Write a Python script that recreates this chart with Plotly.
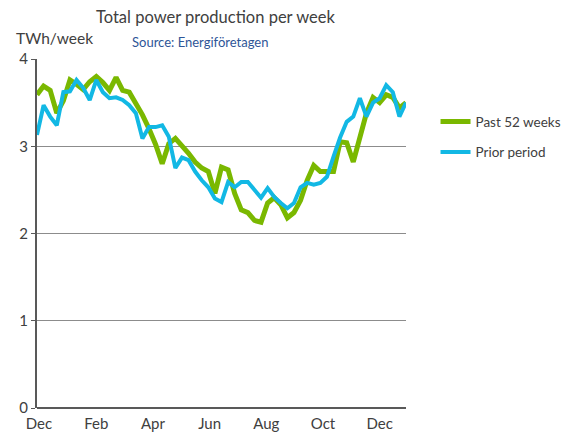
"""Total power production per week: past 52 weeks vs prior period."""

import plotly.graph_objects as go

GREEN = "#7AB800"
BLUE = "#12B8E4"
TEXT = "#404040"
GRID = "#8C8C8C"
AXIS = "#595959"
FONT = "Lato, 'Open Sans', sans-serif"

# weekly index (0 = early December)
weeks = list(range(57))

past_52 = [
    3.59, 3.69, 3.64, 3.38, 3.52, 3.76, 3.71, 3.65, 3.74, 3.80,
    3.73, 3.64, 3.79, 3.64, 3.62, 3.50, 3.36, 3.20, 3.02, 2.80,
    3.03, 3.09, 3.01, 2.92, 2.82, 2.75, 2.71, 2.46, 2.76, 2.73,
    2.46, 2.27, 2.24, 2.15, 2.13, 2.35, 2.41, 2.33, 2.18, 2.24,
    2.38, 2.61, 2.78, 2.71, 2.71, 2.71, 3.05, 3.04, 2.82, 3.09,
    3.38, 3.56, 3.50, 3.59, 3.56, 3.44, 3.50,
]

prior = [
    3.13, 3.47, 3.34, 3.24, 3.62, 3.63, 3.76, 3.67, 3.53, 3.76,
    3.62, 3.55, 3.56, 3.53, 3.47, 3.38, 3.09, 3.22, 3.22, 3.24,
    3.11, 2.75, 2.87, 2.84, 2.71, 2.61, 2.53, 2.40, 2.36, 2.59,
    2.53, 2.59, 2.59, 2.50, 2.41, 2.52, 2.42, 2.35, 2.29, 2.35,
    2.53, 2.58, 2.56, 2.58, 2.65, 2.88, 3.10, 3.28, 3.34, 3.55,
    3.34, 3.50, 3.55, 3.70, 3.62, 3.34, 3.50,
]

month_pos = [0.3, 9.0, 17.6, 26.2, 34.8, 43.4, 52.0]
month_labels = ["Dec", "Feb", "Apr", "Jun", "Aug", "Oct", "Dec"]

fig = go.Figure()

fig.add_trace(
    go.Scatter(
        x=weeks,
        y=past_52,
        mode="lines",
        name="Past 52 weeks",
        legendgroup="a",
        line=dict(color=GREEN, width=5),
    )
)
fig.add_trace(
    go.Scatter(
        x=weeks,
        y=prior,
        mode="lines",
        name="Prior period",
        legendgroup="b",
        line=dict(color=BLUE, width=4),
    )
)

fig.update_layout(
    width=561,
    height=436,
    # legend sits partly in the right margin; keep the plot area fixed anyway
    margin=dict(l=37, r=155, t=59, b=28, autoexpand=False),
    paper_bgcolor="white",
    plot_bgcolor="white",
    font=dict(family=FONT, size=13, color=TEXT),
    showlegend=True,
    legend=dict(
        x=1.08,
        y=0.865,
        xanchor="left",
        yanchor="top",
        tracegroupgap=10,
        font=dict(size=13.5, color=TEXT),
        bgcolor="rgba(0,0,0,0)",
    ),
    xaxis=dict(
        range=[0, 56],
        automargin=False,
        tickmode="array",
        tickvals=month_pos,
        ticktext=month_labels,
        showgrid=False,
        zeroline=False,
        showline=False,
        ticks="outside",
        ticklen=2,
        tickcolor="rgba(0,0,0,0)",
        tickfont=dict(size=15, color=TEXT),
    ),
    yaxis=dict(
        range=[0, 4],
        automargin=False,
        tickvals=[0, 1, 2, 3, 4],
        showgrid=True,
        gridcolor=GRID,
        gridwidth=1,
        zeroline=True,
        zerolinecolor=AXIS,
        zerolinewidth=2,
        showline=True,
        linecolor=AXIS,
        linewidth=2,
        ticks="outside",
        ticklen=4,
        tickcolor=AXIS,
        tickfont=dict(size=15, color=TEXT),
    ),
    annotations=[
        dict(
            text="Total power production per week",
            xref="paper", yref="paper",
            x=(215 - 37) / 369, y=(408 - 17) / 349,
            xanchor="center", yanchor="middle",
            showarrow=False,
            font=dict(size=16.5, color=TEXT),
        ),
        dict(
            text="TWh/week",
            xref="paper", yref="paper",
            x=(14 - 37) / 369, y=(408 - 38) / 349,
            xanchor="left", yanchor="middle",
            showarrow=False,
            font=dict(size=15.5, color=TEXT),
        ),
        dict(
            text="Source: Energiföretagen",
            xref="paper", yref="paper",
            x=(130 - 37) / 369, y=(408 - 42) / 349,
            xanchor="left", yanchor="middle",
            showarrow=False,
            font=dict(size=13, color="#2E5597"),
        ),
    ],
)

# the page's default body margin/scrollbars would push the fixed-size figure around
fig.write_html(
    "out.html",
    config={"displayModeBar": False},
    post_script="document.body.style.margin = '0'; document.body.style.overflow = 'hidden';",
)
